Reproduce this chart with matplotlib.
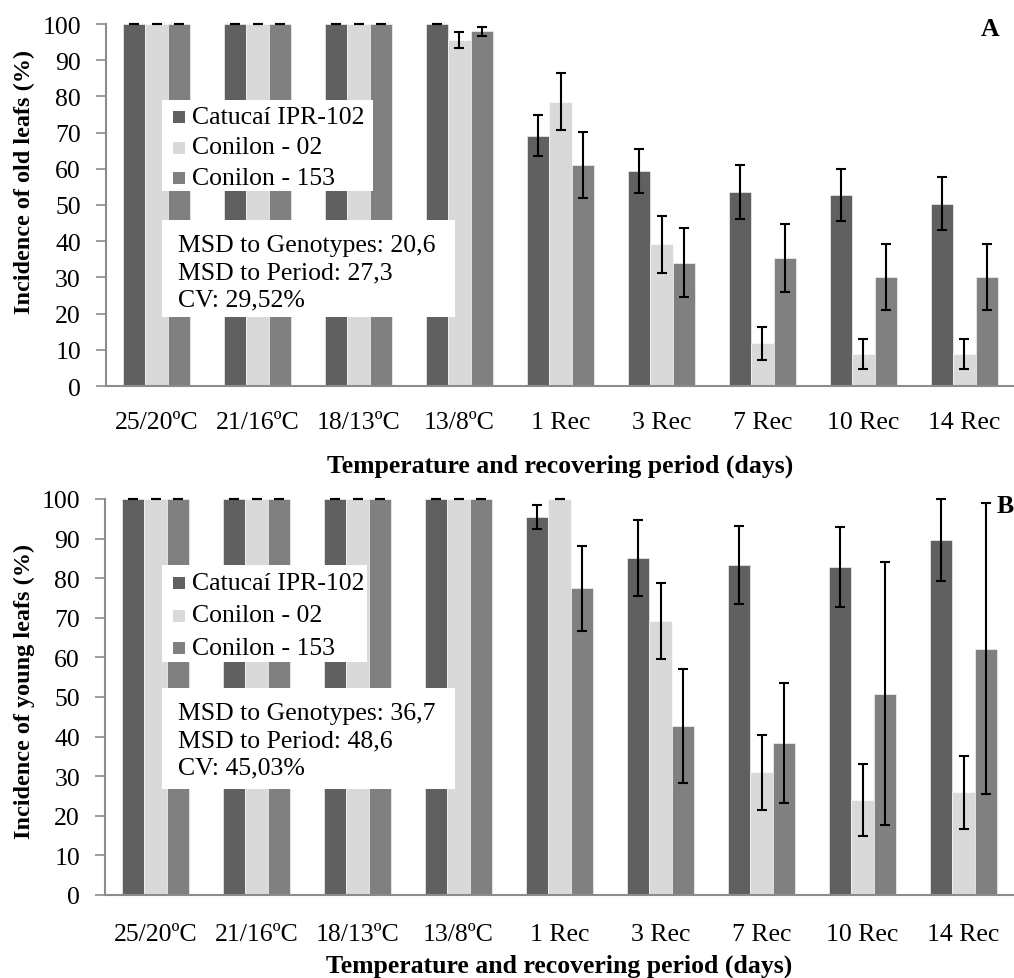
import matplotlib
matplotlib.use("Agg")
import matplotlib.pyplot as plt
import numpy as np
from matplotlib.patches import Rectangle

plt.rcParams["font.family"] = ["Liberation Serif", "DejaVu Serif"]

periods = ["25/20ºC", "21/16ºC", "18/13ºC", "13/8ºC", "1 Rec", "3 Rec", "7 Rec", "10 Rec", "14 Rec"]
genotypes = ["Catucaí IPR-102", "Conilon - 02", "Conilon - 153"]
colors = ["#606060", "#d9d9d9", "#808080"]

# panel A: old leaves
old_catucai = [100, 100, 100, 100, 69.1, 59.4, 53.6, 52.8, 50.3]
old_con02 = [100, 100, 100, 95.6, 78.5, 39.1, 11.8, 8.8, 8.8]
old_con153 = [100, 100, 100, 98.0, 61.1, 34.1, 35.4, 30.1, 30.1]
old_catucai_err = [0, 0, 0, 0, 5.7, 6.2, 7.5, 7.2, 7.3]
old_con02_err = [0, 0, 0, 2.1, 7.9, 7.9, 4.5, 4.1, 4.1]
old_con153_err = [0, 0, 0, 1.2, 9.1, 9.5, 9.3, 9.2, 9.2]

# panel B: young leaves
young_catucai = [100, 100, 100, 100, 95.4, 85.2, 83.3, 82.9, 89.6]
young_con02 = [100, 100, 100, 100, 100, 69.3, 31.0, 24.0, 25.9]
young_con153 = [100, 100, 100, 100, 77.4, 42.7, 38.4, 50.8, 62.2]
young_catucai_err = [0, 0, 0, 0, 3.1, 9.6, 9.8, 10.1, 10.3]
young_con02_err = [0, 0, 0, 0, 0, 9.6, 9.5, 9.0, 9.2]
young_con153_err = [0, 0, 0, 0, 10.8, 14.4, 15.2, 33.2, 36.8]

stats_a = "MSD to Genotypes: 20,6\nMSD to Period: 27,3\nCV: 29,52%"
stats_b = "MSD to Genotypes: 36,7\nMSD to Period: 48,6\nCV: 45,03%"

W, H = 1014, 979
FS = 18.5


def fx(px):
    return px / W


def fy(py):
    return 1 - py / H


def draw_panel(fig, rect_px, series, errors, ylabel, ylabel_y, letter, letter_xy, legend_px, box_px, stats,
               tick_pad, xlabel_top):
    x0, y0, x1, y1 = rect_px
    ax = fig.add_axes([fx(x0), fy(y1), fx(x1 - x0), (y1 - y0) / H])
    x = np.arange(len(periods))
    width = 0.22
    for i, (vals, errs) in enumerate(zip(series, errors)):
        ax.bar(x + (i - 1) * width, vals, width, color=colors[i], edgecolor="white", linewidth=0.4,
               label=genotypes[i], zorder=2)
        ax.errorbar(x + (i - 1) * width, vals, yerr=errs, fmt="none", ecolor="black",
                    elinewidth=1.5, capsize=3.5, capthick=1.5, zorder=3, clip_on=False)
    ax.set_xlim(-0.5, -0.5 + (x1 - x0) / 101.0)
    ax.set_ylim(0, 100)
    ax.set_yticks(np.arange(0, 101, 10))
    ax.set_xticks(x)
    ax.set_xticklabels(periods, fontsize=FS)
    ax.tick_params(axis="x", length=0, pad=tick_pad)
    ax.tick_params(axis="y", length=7, width=1.2, color="#8c8c8c", pad=11, labelsize=FS)
    for s in ["top", "right"]:
        ax.spines[s].set_visible(False)
    for s in ["left", "bottom"]:
        ax.spines[s].set_color("#8c8c8c")
        ax.spines[s].set_linewidth(1.5)
    ax.set_xlabel("Temperature and recovering period (days)", fontsize=FS, fontweight="bold")
    ax.set_ylabel(ylabel, fontsize=17.5, fontweight="bold")
    ax.xaxis.set_label_coords(0.5, -(xlabel_top - y1) / (y1 - y0))
    ax.yaxis.set_label_coords(-(x0 - 35) / (x1 - x0), (y1 - ylabel_y) / (y1 - y0))

    # legend box
    lx0, ly0, lx1, ly1 = legend_px
    fig.patches.append(Rectangle((fx(lx0), fy(ly1)), fx(lx1 - lx0), (ly1 - ly0) / H,
                                 transform=fig.transFigure, facecolor="white", edgecolor="none", zorder=5))
    step = (ly1 - ly0) / 3.0
    for i, g in enumerate(genotypes):
        cy = ly0 + step * (i + 0.5) + 2
        fig.patches.append(Rectangle((fx(lx0 + 11), fy(cy + 6)), fx(12), 12 / H,
                                     transform=fig.transFigure, facecolor=colors[i],
                                     edgecolor="none", zorder=6))
        fig.text(fx(lx0 + 30), fy(cy), g, fontsize=FS, va="center", ha="left", zorder=7)

    bx0, by0, bx1, by1 = box_px
    fig.patches.append(Rectangle((fx(bx0), fy(by1)), fx(bx1 - bx0), (by1 - by0) / H,
                                 transform=fig.transFigure, facecolor="white", edgecolor="none", zorder=5))
    fig.text(fx(bx0 + 16), fy(by0 + 14), stats, fontsize=FS, va="top", ha="left",
             linespacing=1.3, zorder=7)

    fig.text(fx(letter_xy[0]), fy(letter_xy[1]), letter, fontsize=FS, fontweight="bold",
             ha="center", va="center")
    return ax


fig = plt.figure(figsize=(W / 100, H / 100), dpi=100)

draw_panel(fig, (106, 25, 1014, 387),
           [old_catucai, old_con02, old_con153],
           [old_catucai_err, old_con02_err, old_con153_err],
           "Incidence of old leafs (%)", 182, "A", (990, 30),
           (162, 101, 373, 192), (162, 221, 455, 318), stats_a, 18, 455)

draw_panel(fig, (105, 500, 1014, 896),
           [young_catucai, young_con02, young_con153],
           [young_catucai_err, young_con02_err, young_con153_err],
           "Incidence of young leafs (%)", 691, "B", (1005, 507),
           (162, 566, 367, 663), (162, 689, 455, 790), stats_b, 20, 955)

fig.savefig("out.png", dpi=100)
